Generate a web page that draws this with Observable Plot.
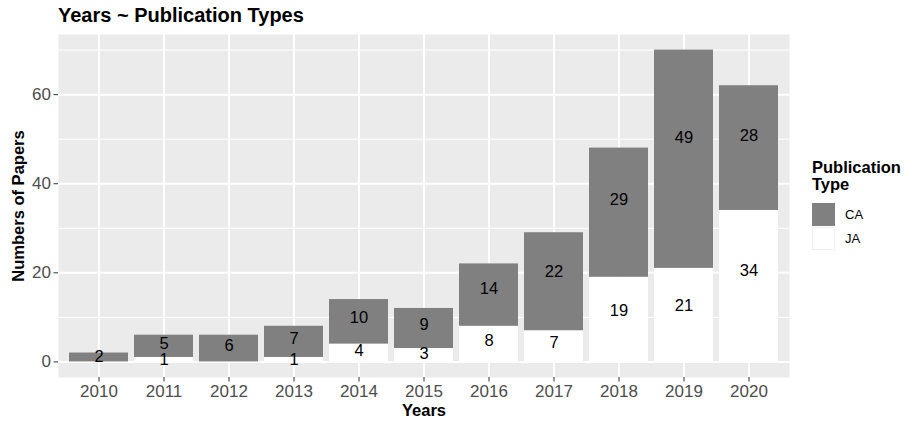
<!DOCTYPE html>
<html><head><meta charset="utf-8">
<script src="https://cdn.jsdelivr.net/npm/d3@7"></script>
<script src="https://cdn.jsdelivr.net/npm/@observablehq/plot@0.6"></script>
<style>
body{margin:0;background:#fff;font-family:"Liberation Sans",Arial,Helvetica,sans-serif;}
#wrap{position:relative;width:909px;height:422px;overflow:hidden;}
#title{height:30px;line-height:30px;padding-left:58px;font-size:20px;font-weight:bold;color:#000;white-space:nowrap;}
#chart svg{display:block;}
g[aria-label="x-axis label"], g[aria-label="y-axis label"]{fill:#000 !important;font-weight:bold;font-size:16.5px;}
#legend{position:absolute;left:812px;top:159px;color:#000;}
#legend .lt{font-weight:bold;font-size:16.5px;line-height:17px;}
#legend .rows{margin-top:10px;}
#legend .row{display:flex;align-items:center;height:23.5px;}
#legend .key{width:23px;height:23px;box-sizing:border-box;}
#legend .lab{font-size:13px;margin-left:10px;}
</style></head><body>
<div id="wrap">
<div id="title">Years ~ Publication Types</div>
<div id="chart"></div>
<div id="legend"></div>
</div>
<script>
const years = ["2010","2011","2012","2013","2014","2015","2016","2017","2018","2019","2020"];
const types = ["JA","CA"];
const legendTypes = ["CA","JA"];
const typeColors = ["#808080","#FFFFFF"];
const caCounts = [2,5,6,7,10,9,14,22,29,49,28];
const jaCounts = [0,1,0,1,4,3,8,7,19,21,34];
const yMajor = [0,20,40,60];
const yMinor = [10,30,50,70];
const labelFrac = 0.6; // label placed at 60% of each segment (as in the reference)

const data = [];
years.forEach((yr,i)=>{
  if (jaCounts[i] > 0) data.push({year:yr, type:"JA", n:jaCounts[i], base:0});
  if (caCounts[i] > 0) data.push({year:yr, type:"CA", n:caCounts[i], base:jaCounts[i]});
});
const maxTotal = d3.max(years, (_,i)=>caCounts[i]+jaCounts[i]);
const pad = maxTotal*0.05;

const chart = Plot.plot({
  width:909, height:392,
  marginTop:4, marginBottom:45, marginLeft:58, marginRight:120,
  style:{fontFamily:'"Liberation Sans",Arial,Helvetica,sans-serif', background:"transparent", overflow:"visible"},
  x:{type:"band", domain:years, paddingInner:0.1, paddingOuter:0.15, align:0.5},
  y:{domain:[-pad, maxTotal+pad]},
  color:{domain:legendTypes, range:typeColors},
  marks:[
    Plot.frame({fill:"#EBEBEB", stroke:"none"}),
    Plot.gridY(yMinor,{stroke:"#FFFFFF", strokeOpacity:1, strokeWidth:1}),
    Plot.gridY(yMajor,{stroke:"#FFFFFF", strokeOpacity:1, strokeWidth:2}),
    Plot.gridX(years,{stroke:"#FFFFFF", strokeOpacity:1, strokeWidth:2}),
    Plot.barY(data,{x:"year", y:"n", fill:"type", order:types}),
    Plot.text(data,{x:"year", y:d=>d.base + labelFrac*d.n, text:"n", fontSize:16.5, fill:"#000"}),
    Plot.axisX({tickSize:4.5, tickPadding:3, fontSize:17, fill:"#4D4D4D", stroke:"#333333", label:"Years", labelAnchor:"center", labelOffset:38, labelArrow:"none"}),
    Plot.axisY({ticks:yMajor, tickSize:4.5, tickPadding:3, fontSize:17, fill:"#4D4D4D", stroke:"#333333", label:"Numbers of Papers", labelAnchor:"center", labelOffset:46, labelArrow:"none"})
  ]
});
document.getElementById("chart").appendChild(chart);

const lg = document.getElementById("legend");
lg.innerHTML = '<div class="lt">Publication<br>Type</div><div class="rows"></div>';
const rows = lg.querySelector(".rows");
legendTypes.forEach((t,i)=>{
  const r = document.createElement("div"); r.className="row";
  const k = document.createElement("div"); k.className="key";
  k.style.background = typeColors[i];
  if (t==="JA") k.style.border = "1px solid #F0F0F0";
  const l = document.createElement("div"); l.className="lab"; l.textContent=t;
  r.appendChild(k); r.appendChild(l); rows.appendChild(r);
});
</script>
</body></html>
